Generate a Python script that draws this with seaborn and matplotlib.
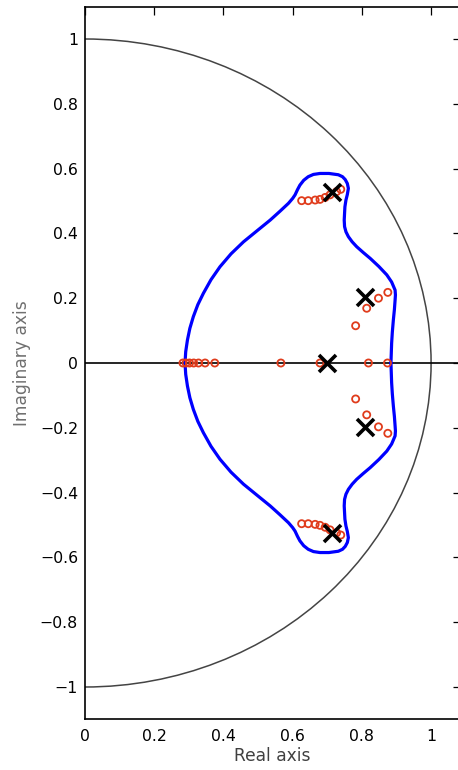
import matplotlib
matplotlib.use("Agg")
from matplotlib import pyplot as plt
from matplotlib.patches import Arc
import seaborn as sns
import pandas as pd

# closed locus boundary (upper half, right side y=0 -> top -> left side y=0)
curve_x = [0.884, 0.885, 0.886, 0.888, 0.891, 0.894, 0.896, 0.897, 0.896, 0.886,
           0.872, 0.849, 0.824, 0.804, 0.785, 0.772, 0.761, 0.754, 0.750, 0.749,
           0.750, 0.751, 0.754, 0.758, 0.761, 0.758, 0.752, 0.744, 0.732, 0.705,
           0.679, 0.660, 0.645, 0.632, 0.621, 0.614, 0.607, 0.600, 0.588, 0.563,
           0.535, 0.497, 0.458, 0.422, 0.390, 0.364, 0.342, 0.326, 0.313, 0.303,
           0.296, 0.291, 0.289]
curve_y = [0.000, 0.030, 0.061, 0.095, 0.133, 0.165, 0.194, 0.210, 0.225, 0.250,
           0.272, 0.298, 0.323, 0.341, 0.359, 0.374, 0.390, 0.405, 0.421, 0.441,
           0.462, 0.482, 0.503, 0.520, 0.539, 0.554, 0.566, 0.575, 0.581, 0.585,
           0.585, 0.582, 0.575, 0.564, 0.549, 0.535, 0.519, 0.508, 0.493, 0.468,
           0.441, 0.408, 0.374, 0.337, 0.297, 0.257, 0.215, 0.180, 0.143, 0.107,
           0.071, 0.035, 0.000]

# zeros (red circles)
zero_x = [0.283, 0.292, 0.302, 0.314, 0.328, 0.347, 0.375, 0.566, 0.679, 0.819, 0.874,
          0.782, 0.814, 0.848, 0.875,
          0.782, 0.814, 0.848, 0.875,
          0.626, 0.645, 0.665, 0.679, 0.694, 0.708, 0.727, 0.739,
          0.626, 0.645, 0.665, 0.679, 0.694, 0.708, 0.727, 0.739]
zero_y = [0, 0, 0, 0, 0, 0, 0, 0, 0, 0, 0,
          0.115, 0.169, 0.200, 0.218,
          -0.111, -0.160, -0.197, -0.217,
          0.501, 0.501, 0.503, 0.505, 0.511, 0.519, 0.529, 0.536,
          -0.496, -0.496, -0.498, -0.501, -0.507, -0.515, -0.524, -0.531]

# poles (black crosses)
pole_x = [0.698, 0.809, 0.809, 0.713, 0.713]
pole_y = [0.000, 0.205, -0.197, 0.529, -0.526]

xticks = [0, 0.2, 0.4, 0.6, 0.8, 1]
xtick_labels = ["0", "0.2", "0.4", "0.6", "0.8", "1"]
yticks = [-1, -0.8, -0.6, -0.4, -0.2, 0, 0.2, 0.4, 0.6, 0.8, 1]
ytick_labels = ["\u22121", "\u22120.8", "\u22120.6", "\u22120.4", "\u22120.2", "0",
                "0.2", "0.4", "0.6", "0.8", "1"]

sns.set_style("white")
plt.rcParams["font.family"] = ["DejaVu Sans"]

fig = plt.figure(figsize=(4.58, 7.7), dpi=100)
ax = fig.add_axes([85 / 458, 1 - 719.4 / 770, (460.5 - 85) / 458, (719.4 - 6.6) / 770])

# unit circle (right half) and real axis
ax.add_patch(Arc((0, 0), 2, 2, theta1=-90, theta2=90, color="#444444", lw=1.1, zorder=1))
ax.axhline(0, color="black", lw=1.2, zorder=1)

upper = pd.DataFrame({"x": curve_x, "y": curve_y})
lower = pd.DataFrame({"x": curve_x[::-1], "y": [-v for v in curve_y[::-1]]})
curve = pd.concat([upper, lower], ignore_index=True)
sns.lineplot(data=curve, x="x", y="y", sort=False, estimator=None,
             color="#0000ff", lw=2.3, ax=ax, zorder=2)

sns.scatterplot(x=zero_x, y=zero_y, marker="o", s=26, fc="none", ec="#e03c1c",
                linewidth=1.3, ax=ax, zorder=3)
sns.scatterplot(x=pole_x, y=pole_y, marker="x", s=150, color="black",
                linewidth=2.6, ax=ax, zorder=4)

ax.set_xlim(0, 1.085)
ax.set_ylim(-1.1, 1.1)
ax.set_xticks(xticks)
ax.set_xticklabels(xtick_labels)
ax.set_yticks(yticks)
ax.set_yticklabels(ytick_labels)
ax.tick_params(direction="in", top=True, right=True, length=5.5, width=0.9,
               labelsize=11.3, colors="black", pad=7)
ax.tick_params(axis="y", pad=5)
for s in ax.spines.values():
    s.set_color("black")
    s.set_linewidth(1.2)

ax.set_xlabel("Real axis", fontsize=12.3, color="#404040", labelpad=2)
ax.set_ylabel("Imaginary axis", fontsize=12.3, color="#707070", labelpad=6)

plt.savefig("out.png", dpi=100)
